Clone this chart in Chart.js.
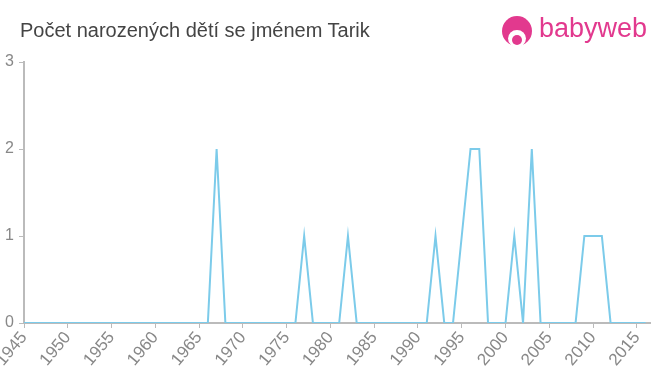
<!DOCTYPE html>
<html><head><meta charset="utf-8">
<script src="https://cdn.jsdelivr.net/npm/chart.js@4/dist/chart.umd.min.js"></script>
<style>
html,body{margin:0;padding:0;background:#fff;}
#wrap{position:relative;width:660px;height:375px;overflow:hidden;}
#title{position:absolute;left:20px;top:19px;font:20px "Liberation Sans",Arial,sans-serif;color:#444;white-space:nowrap;}
#logo{position:absolute;left:502px;top:15px;width:160px;height:40px;}
#icon{position:absolute;left:0;top:1px;width:30px;height:30px;border-radius:50%;background:#e2398e;}
#icon .face{position:absolute;left:6px;top:14px;width:18px;height:17px;border-radius:50%;background:#fff;}
#icon .ball{position:absolute;left:10px;top:19px;width:10px;height:10px;border-radius:50%;background:#e2398e;}
#logotext{position:absolute;left:37px;top:-2px;font:27px "Liberation Sans",Arial,sans-serif;color:#e2398e;}
canvas{position:absolute;left:0;top:0;}
</style></head>
<body><div id="wrap">
<canvas id="c" width="660" height="375"></canvas>
<div id="title">Počet narozených dětí se jménem Tarik</div>
<div id="logo"><div id="icon"><div class="face"></div><div class="ball"></div></div><div id="logotext">babyweb</div></div>
</div>
<script>
const years = [];
for (let y = 1945; y <= 2016; y++) years.push(y);
const nonZeroYears = [1967, 1977, 1982, 1992, 1995, 1996, 1997, 2001, 2003, 2009, 2010, 2011];
const nonZeroCounts = [2, 1, 1, 1, 1, 2, 2, 1, 2, 1, 1, 1];
const xTickValues = [1945, 1950, 1955, 1960, 1965, 1970, 1975, 1980, 1985, 1990, 1995, 2000, 2005, 2010, 2015];
const yTicks = [0, 1, 2, 3];

const counts = years.map(y => {
  const i = nonZeroYears.indexOf(y);
  return i >= 0 ? nonZeroCounts[i] : 0;
});
const points = years.map((y, i) => ({x: y, y: counts[i]}));

const fam = '"Liberation Sans", Arial, sans-serif';
new Chart(document.getElementById('c'), {
  type: 'line',
  data: {datasets: [{data: points, borderColor: '#7ccbea', borderWidth: 2, pointRadius: 0, tension: 0, fill: false}]},
  options: {
    responsive: false, animation: false,
    layout: {padding: {top: 62, right: 10, left: 0, bottom: 0}},
    plugins: {legend: {display: false}, tooltip: {enabled: false}},
    scales: {
      x: {
        type: 'linear', min: 1945, max: 2016.5,
        grid: {drawOnChartArea: false, drawTicks: true, tickLength: 5, color: '#bbb'},
        border: {color: '#bbb', width: 2},
        ticks: {color: '#888', font: {family: fam, size: 17}, minRotation: 50, maxRotation: 50, padding: 0, autoSkip: false,
                callback: v => String(v)},
        afterBuildTicks: s => { s.ticks = xTickValues.map(v => ({value: v})); },
        afterFit: s => { s.height = 52; s.paddingLeft = 0; s.paddingRight = 0; }
      },
      y: {
        min: 0, max: 3,
        grid: {drawOnChartArea: false, drawTicks: true, tickLength: 5, color: '#bbb'},
        border: {color: '#bbb', width: 2},
        ticks: {stepSize: 1, color: '#888', font: {family: fam, size: 16}, padding: 5,
                callback: v => yTicks.includes(v) ? String(v) : ''},
        afterFit: s => { s.width = 24; s.paddingTop = 0; s.paddingBottom = 0; }
      }
    }
  }
});
</script>
</body></html>
